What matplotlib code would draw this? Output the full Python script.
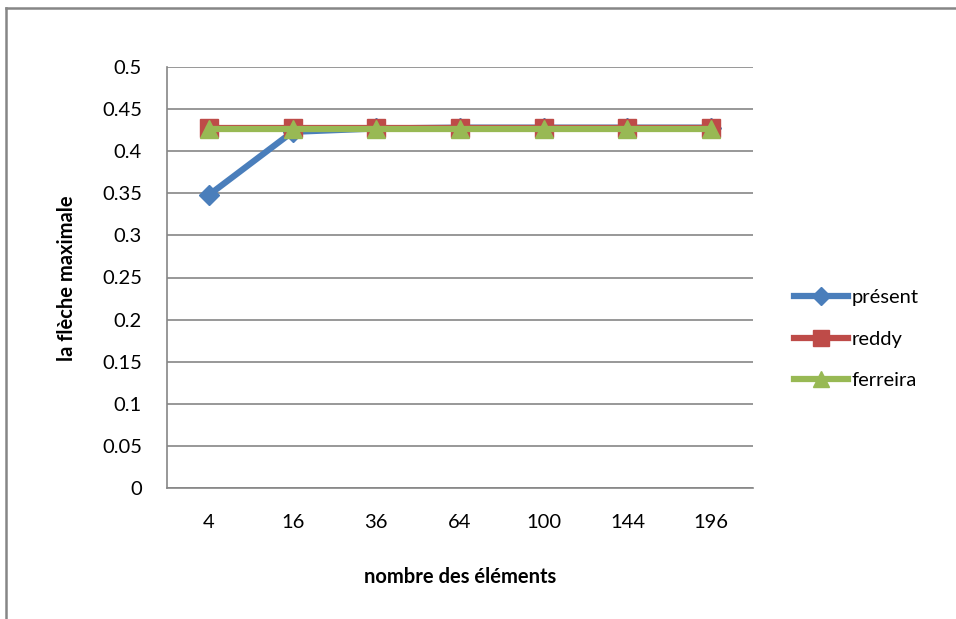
import matplotlib
matplotlib.use("Agg")
import matplotlib.pyplot as plt

# valeurs de la flèche maximale selon le maillage
elements = ["4", "16", "36", "64", "100", "144", "196"]
present = [0.348, 0.423, 0.427, 0.428, 0.428, 0.428, 0.428]
reddy = [0.4273, 0.4273, 0.4273, 0.4273, 0.4273, 0.4273, 0.4273]
ferreira = [0.4262, 0.4262, 0.4262, 0.4262, 0.4262, 0.4262, 0.4262]
yticks = [0, 0.05, 0.1, 0.15, 0.2, 0.25, 0.3, 0.35, 0.4, 0.45, 0.5]

plt.rcParams['font.family'] = ['Lato', 'DejaVu Sans']
fs = 14.5

W, H = 956, 619
fig = plt.figure(figsize=(W / 100, H / 100), dpi=100)

# cadre du graphique : axes de fond en pixels, bords haut et gauche seulement
bg = fig.add_axes([0, 0, 1, 1])
bg.set_xlim(0, W)
bg.set_ylim(H, 0)
bg.axis('off')
bg.plot([6, W + 5], [8, 8], color='#868686', linewidth=1.8, clip_on=False)
bg.plot([6, 6], [8, H + 5], color='#868686', linewidth=1.8, clip_on=False)

ax = fig.add_axes([167 / W, 1 - 488 / H, (753 - 167) / W, (488 - 67) / H])

x = [i + 0.5 for i in range(len(elements))]
ax.plot(x, present, color='#4a7ebb', linewidth=4.5, marker='D', markersize=10,
        label='présent', zorder=3)
ax.plot(x, reddy, color='#be4b48', linewidth=4.5, marker='s', markersize=13,
        label='reddy', zorder=4)
ax.plot(x, ferreira, color='#98b954', linewidth=4.5, marker='^', markersize=13,
        label='ferreira', zorder=5)

ax.set_xlim(0, len(elements))
ax.set_ylim(0, 0.5)
ax.set_xticks(x)
ax.set_xticklabels(elements)
ax.set_yticks(yticks)
ax.set_yticklabels([f"{t:g}" for t in yticks])
ax.tick_params(length=0, labelsize=fs)
ax.tick_params(axis='y', pad=18)
ax.tick_params(axis='x', pad=19)

ax.grid(axis='y', color='#868686', linewidth=1.2)
ax.set_axisbelow(True)
for side in ['top', 'right']:
    ax.spines[side].set_visible(False)
for side in ['left', 'bottom']:
    ax.spines[side].set_color('#868686')
    ax.spines[side].set_linewidth(1.2)

fig.text(460 / W, 1 - 577 / H, 'nombre des éléments', fontsize=fs,
         fontweight='bold', ha='center', va='center')
fig.text(67 / W, 1 - 278 / H, 'la flèche maximale', fontsize=fs,
         fontweight='bold', ha='center', va='center', rotation=90)

ax.legend(loc='center left', bbox_to_anchor=((794 - 167) / 586, (488 - 339) / 421),
          frameon=False, fontsize=fs, handlelength=2.7, handletextpad=0.15,
          labelspacing=1.2, markerscale=0.9, borderpad=0, borderaxespad=0)

fig.savefig('out.png', dpi=100)
